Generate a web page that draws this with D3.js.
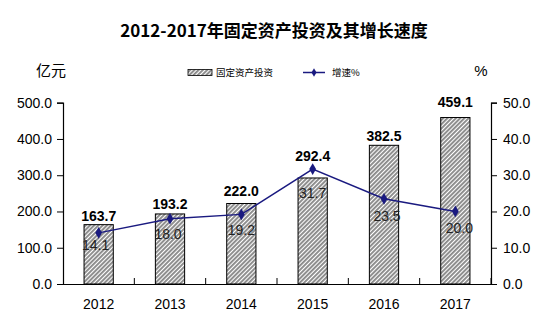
<!DOCTYPE html>
<html><head><meta charset="utf-8">
<script src="https://cdn.jsdelivr.net/npm/d3@7"></script>
<style>body{margin:0;background:#fff}svg{display:block}</style>
</head><body>
<script>
const years = ["2012","2013","2014","2015","2016","2017"];
const investment = [163.7,193.2,222.0,292.4,382.5,459.1];
const growth = [14.1,18.0,19.2,31.7,23.5,20.0];
const leftTicks = [0,100,200,300,400,500];
const rightTicks = [0,10,20,30,40,50];

// label placement nudges (layout, not data)
const barLabelGap = [4,5,8,17,4,11];
const lineLabelDy = [17,20,21,29,22,22];
const lineLabelDx = [-3,-2,0,0,3,4];

const W=556,H=332;
const svg=d3.select("body").append("svg").attr("width",W).attr("height",H);
const font="Arial, 'Liberation Sans', 'Noto Sans CJK SC', sans-serif";
const cjk="'Noto Sans CJK SC', sans-serif";
const defs=svg.append("defs");
const pat=defs.append("pattern").attr("id","hatch").attr("patternUnits","userSpaceOnUse")
  .attr("width",3).attr("height",3).attr("patternTransform","rotate(45)");
pat.append("rect").attr("width",3).attr("height",3).attr("fill","#fff");
pat.append("rect").attr("width",1.9).attr("height",3).attr("fill","#8a8a8a");

const L=63,R=491,T=102.7,B=284;
const x=d3.scaleBand().domain(years).range([L,R]).paddingInner(0.59).paddingOuter(0.295);
const xb=d3.scaleBand().domain(years).range([L,R]);
const yL=d3.scaleLinear().domain([0,500]).range([B,T]);
const yR=d3.scaleLinear().domain([0,50]).range([B,T]);

svg.append("text").attr("x",274).attr("y",37).attr("text-anchor","middle")
  .attr("font-family",cjk).attr("font-weight","bold").attr("font-size",17).attr("fill","#000")
  .text("2012-2017年固定资产投资及其增长速度");
svg.append("text").attr("x",51).attr("y",76).attr("text-anchor","middle")
  .attr("font-family",cjk).attr("font-size",15).attr("fill","#000").text("亿元");
svg.append("text").attr("x",481).attr("y",76).attr("text-anchor","middle")
  .attr("font-family",font).attr("font-size",15).attr("fill","#000").text("%");

// legend
svg.append("rect").attr("x",188).attr("y",69.5).attr("width",24).attr("height",6)
  .attr("fill","url(#hatch)").attr("stroke","#000").attr("stroke-width",0.8);
svg.append("text").attr("x",216).attr("y",76).attr("font-family",cjk).attr("font-size",9.5).text("固定资产投资");
svg.append("line").attr("x1",303).attr("x2",325).attr("y1",72.5).attr("y2",72.5).attr("stroke","#1a1a80").attr("stroke-width",1.5);
svg.append("path").attr("d",d3.symbol(d3.symbolDiamond,22)()).attr("transform","translate(314,72.5)").attr("fill","#1a1a80");
svg.append("text").attr("x",332).attr("y",76).attr("font-family",cjk).attr("font-size",9.5).text("增速%");

// axes
const axL=d3.axisLeft(yL).tickValues(leftTicks).tickFormat(d3.format(".1f")).tickSize(6).tickPadding(5);
const gL=svg.append("g").attr("transform",`translate(${L},0)`).call(axL);
const axR=d3.axisRight(yR).tickValues(rightTicks).tickFormat(d3.format(".1f")).tickSize(6).tickPadding(6);
const gR=svg.append("g").attr("transform",`translate(${R},0)`).call(axR);
[gL,gR].forEach(g=>{g.select(".domain").attr("stroke","#000").attr("stroke-width",1.2);
  g.selectAll(".tick line").attr("stroke","#000");
  g.selectAll("text").attr("font-family",font).attr("font-size",14).attr("fill","#000");});
// x axis
const axX=d3.axisBottom(xb).tickSize(0).tickPadding(15);
const gX=svg.append("g").attr("transform",`translate(0,${B})`).call(axX);
gX.select(".domain").attr("stroke","#000").attr("stroke-width",1.2);
gX.selectAll("text").attr("font-family",font).attr("font-size",14).attr("fill","#000");
// category ticks (inside)
svg.append("g").selectAll("line").data(years.slice(1).concat(["end"])).join("line")
  .attr("x1",(d,i)=>L+xb.step()*(i+1)).attr("x2",(d,i)=>L+xb.step()*(i+1))
  .attr("y1",B).attr("y2",B-6).attr("stroke","#000");

// bars
svg.append("g").selectAll("rect").data(investment).join("rect")
  .attr("x",(d,i)=>x(years[i])).attr("width",x.bandwidth())
  .attr("y",d=>yL(d)).attr("height",d=>B-yL(d))
  .attr("fill","url(#hatch)").attr("stroke","#000").attr("stroke-width",1);
svg.append("g").selectAll("text").data(investment).join("text")
  .attr("x",(d,i)=>xb(years[i])+xb.bandwidth()/2).attr("y",(d,i)=>yL(d)-barLabelGap[i])
  .attr("text-anchor","middle").attr("font-family",font).attr("font-weight","bold").attr("font-size",14)
  .text(d=>d3.format(".1f")(d));

// line
const cx=i=>xb(years[i])+xb.bandwidth()/2;
svg.append("path").datum(growth).attr("fill","none").attr("stroke","#1a1a80").attr("stroke-width",1.5)
  .attr("d",d3.line().x((d,i)=>cx(i)).y(d=>yR(d)));
svg.append("g").selectAll("path").data(growth).join("path")
  .attr("d",d3.symbol(d3.symbolDiamond,40)()).attr("transform",(d,i)=>`translate(${cx(i)},${yR(d)})`)
  .attr("fill","#1a1a80");
svg.append("g").selectAll("text").data(growth).join("text")
  .attr("x",(d,i)=>cx(i)+lineLabelDx[i]).attr("y",(d,i)=>yR(d)+lineLabelDy[i])
  .attr("text-anchor","middle").attr("font-family",font).attr("font-size",14).attr("fill","#222")
  .text(d=>d3.format(".1f")(d));
</script>
</body></html>
